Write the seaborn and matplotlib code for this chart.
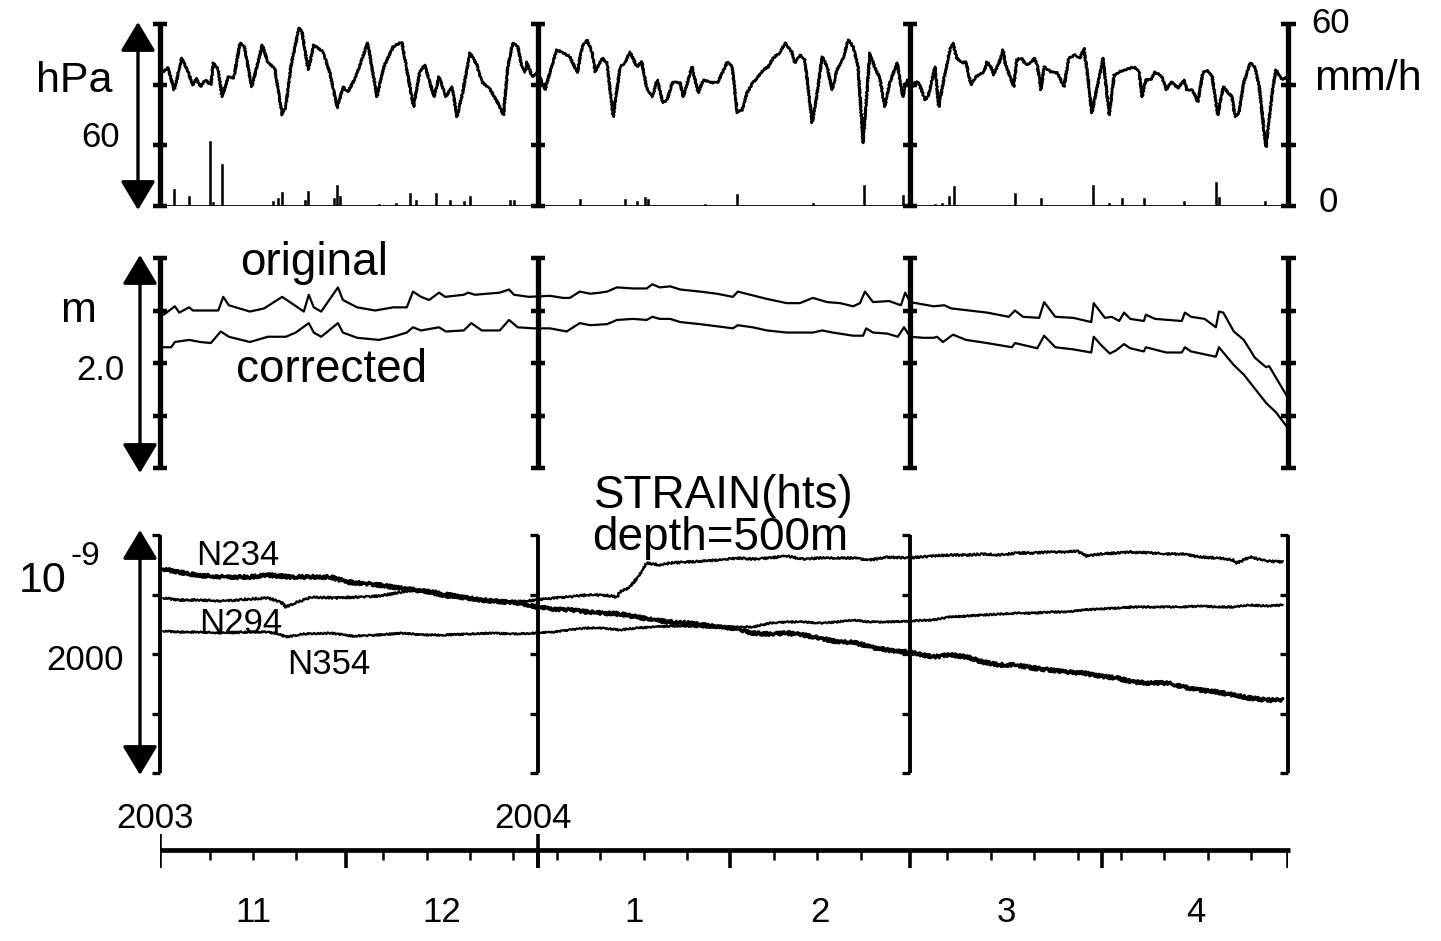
import pandas as pd
import seaborn as sns
import matplotlib.pyplot as plt

# days counted from 2003-11-01
start = pd.Timestamp('2003-11-01')

# atmospheric pressure (hPa)
pressure_day = [
    0.4, 1.3, 2.3, 3.5, 4.4, 5.3, 5.8, 6.5, 7.3, 8.2,
    8.6, 9.4, 10.0, 11.0, 11.9, 12.9, 13.6, 14.8, 16.5, 17.4,
    18.5, 19.7, 20.3, 21.1, 22.4, 22.9, 23.9, 24.8, 26.3, 27.4,
    28.6, 29.5, 30.3, 31.5, 33.5, 35.0, 36.1, 37.6, 39.0, 40.9,
    41.9, 42.7, 44.2, 45.0, 46.1, 47.1, 47.9, 48.8, 50.0, 51.1,
    51.9, 53.1, 54.5, 55.4, 56.1, 56.9, 57.7, 58.4, 58.9, 59.2,
    60.0, 60.8, 61.3, 62.1, 62.9, 64.0, 65.0, 66.1, 67.3, 68.1,
    68.9, 69.7, 70.2, 71.3, 72.1, 73.1, 74.2, 75.0, 75.8, 76.9,
    77.7, 78.5, 79.4, 80.2, 81.1, 81.8, 82.7, 83.9, 84.4, 85.8,
    86.8, 87.6, 89.2, 90.0, 91.5, 92.3, 93.1, 93.9, 94.7, 95.6,
    96.5, 97.3, 98.1, 98.9, 100.0, 100.8, 101.9, 102.4, 103.2, 104.0,
    105.2, 106.0, 106.8, 107.6, 108.4, 109.2, 110.2, 111.0, 111.8, 112.6,
    113.4, 114.5, 115.3, 116.1, 116.9, 117.7, 118.9, 119.8, 120.5, 121.3,
    121.9, 122.4, 123.4, 123.9, 125.0, 125.6, 126.5, 127.4, 127.9, 128.5,
    129.4, 130.0, 130.8, 131.6, 132.9, 133.4, 134.0, 134.5, 135.5, 136.0,
    136.3, 137.7, 138.2, 138.9, 139.7, 140.6, 141.0, 141.5, 142.1, 142.6,
    143.7, 144.7, 145.8, 146.6, 147.6, 148.4, 149.0, 149.5, 150.3, 151.3,
    152.1, 153.1, 153.9, 154.7, 155.8, 157.1, 157.9, 158.4, 159.0, 159.8,
    160.5, 161.6, 162.3, 163.1, 164.2, 165.2, 165.6, 166.5, 167.4, 168.2,
    168.9, 169.7, 170.6, 171.5, 172.3, 172.9, 173.4, 174.0, 174.8, 175.8,
    176.6, 177.3, 178.1, 178.4, 178.9, 179.5, 180.0, 181.0, 181.8]
pressure_hpa = [
    1014.2, 1015.5, 1008.3, 1018.8, 1014.9, 1009.9, 1012.2, 1009.3, 1011.6, 1009.9,
    1017.2, 1014.9, 1006.0, 1012.6, 1012.2, 1023.8, 1022.5, 1009.3, 1023.1, 1017.2,
    1015.5, 1000.0, 1002.7, 1015.9, 1028.7, 1027.4, 1014.9, 1023.1, 1020.8, 1013.9,
    1002.3, 1009.3, 1007.6, 1012.2, 1023.8, 1006.0, 1015.9, 1022.5, 1024.1, 1002.7,
    1014.2, 1016.5, 1006.0, 1012.6, 1006.0, 1009.3, 999.4, 1007.3, 1020.5, 1016.5,
    1010.9, 1008.9, 1004.0, 1000.0, 1015.9, 1023.8, 1022.5, 1015.9, 1014.2, 1017.5,
    1012.6, 1013.9, 1012.2, 1008.3, 1014.2, 1021.5, 1020.5, 1019.2, 1013.9, 1022.5,
    1024.8, 1020.5, 1014.2, 1018.8, 1017.2, 999.4, 1015.9, 1017.2, 1020.8, 1015.9,
    1017.5, 1008.9, 1006.0, 1011.6, 1004.0, 1005.0, 1010.9, 1010.6, 1006.0, 1015.9,
    1007.3, 1011.6, 1010.6, 1010.9, 1017.5, 1015.9, 1000.7, 1001.7, 1007.3, 1010.6,
    1012.6, 1014.9, 1015.9, 1018.8, 1020.5, 1023.8, 1020.8, 1017.2, 1019.8, 1018.2,
    997.4, 1007.3, 1019.2, 1015.9, 1008.3, 1014.9, 1018.8, 1024.8, 1022.5, 1015.9,
    990.8, 1020.5, 1015.5, 1012.2, 1002.7, 1010.6, 1017.2, 1006.0, 1011.6, 1009.3,
    1010.9, 1010.6, 1005.0, 1006.0, 1015.9, 1002.7, 1012.6, 1021.5, 1023.8, 1018.8,
    1017.2, 1017.5, 1009.9, 1012.6, 1014.2, 1017.5, 1015.9, 1013.2, 1018.2, 1021.5,
    1017.2, 1009.3, 1018.2, 1018.8, 1016.5, 1017.5, 1018.8, 1016.5, 1008.3, 1015.9,
    1014.2, 1013.9, 1009.3, 1018.8, 1019.8, 1018.8, 1022.1, 1014.9, 1000.7, 1010.6,
    1018.8, 1000.0, 1013.2, 1014.2, 1014.9, 1015.9, 1014.2, 1006.0, 1011.6, 1011.6,
    1014.2, 1012.6, 1008.3, 1010.9, 1008.9, 1011.6, 1008.3, 1008.3, 1004.3, 1013.9,
    1014.9, 1012.6, 1000.0, 1009.3, 1007.3, 1006.0, 999.4, 1000.7, 1010.6, 1017.2,
    1015.9, 1009.3, 994.1, 989.5, 998.4, 1009.3, 1014.9, 1011.6, 1012.6]

# rainfall (mm/h)
rain_day = [2.3, 4.7, 8.1, 8.5, 10.0, 18.2, 19.0, 19.7, 23.4, 23.9,
            28.1, 28.5, 29.0, 35.3, 38.1, 40.3, 41.3, 44.5, 46.8, 49.0,
            50.0, 56.5, 57.1, 67.7, 75.0, 76.9, 78.2, 78.7, 87.9, 93.1,
            105.3, 113.5, 119.8, 125.0, 126.1, 127.3, 128.1, 137.9, 142.1, 150.5,
            153.1, 155.2, 158.7, 165.2, 170.3, 170.8, 178.2]
rain_mmh = [5.6, 3.3, 21.4, 1.3, 13.8, 1.6, 2.6, 4.6, 2.0, 4.9,
            2.6, 6.9, 3.3, 0.7, 1.0, 4.3, 2.0, 4.3, 2.0, 1.6,
            3.3, 2.0, 2.0, 2.3, 2.3, 1.6, 3.0, 2.3, 0.7, 4.0,
            1.0, 6.9, 3.6, 0.7, 1.0, 3.3, 6.6, 4.3, 2.6, 6.9,
            1.0, 2.6, 2.6, 1.6, 7.9, 3.0, 1.6]

# groundwater level (m)
orig_day = [0.6, 2.4, 3.1, 4.7, 5.3, 9.4, 10.2, 11.1, 14.5, 16.8,
            19.7, 23.2, 24.0, 24.8, 26.0, 28.7, 29.5, 31.8, 34.7, 37.6,
            39.8, 40.8, 42.1, 43.4, 45.0, 46.0, 49.0, 49.7, 50.8, 54.8,
            56.3, 57.1, 59.5, 62.9, 65.0, 66.1, 67.7, 69.4, 71.0, 72.1,
            73.7, 76.3, 78.5, 79.4, 80.6, 82.3, 83.9, 87.1, 89.8, 92.4,
            93.2, 95.2, 97.9, 101.1, 103.2, 105.3, 107.6, 109.7, 111.8, 112.9,
            113.7, 115.0, 117.6, 119.5, 120.2, 121.0, 124.8, 126.5, 127.6, 130.5,
            133.4, 136.9, 137.9, 139.2, 141.8, 142.6, 144.4, 147.3, 150.2, 150.6,
            152.4, 153.5, 154.7, 155.5, 156.5, 158.7, 159.0, 160.5, 164.8, 165.3,
            166.3, 168.5, 170.3, 170.8, 171.5, 173.2, 174.8, 176.6, 178.4, 178.9,
            181.8]
orig_m = [1.46, 1.54, 1.48, 1.53, 1.50, 1.50, 1.63, 1.55, 1.49, 1.52,
          1.63, 1.49, 1.65, 1.53, 1.49, 1.72, 1.60, 1.53, 1.50, 1.53,
          1.53, 1.68, 1.63, 1.60, 1.67, 1.63, 1.65, 1.67, 1.65, 1.67,
          1.70, 1.65, 1.63, 1.64, 1.62, 1.62, 1.68, 1.66, 1.67, 1.68,
          1.72, 1.71, 1.71, 1.75, 1.72, 1.73, 1.70, 1.68, 1.66, 1.63,
          1.68, 1.65, 1.61, 1.57, 1.57, 1.62, 1.58, 1.57, 1.54, 1.57,
          1.68, 1.58, 1.59, 1.55, 1.67, 1.58, 1.54, 1.55, 1.52, 1.50,
          1.48, 1.44, 1.50, 1.44, 1.43, 1.58, 1.44, 1.43, 1.39, 1.57,
          1.43, 1.44, 1.40, 1.48, 1.42, 1.40, 1.46, 1.42, 1.40, 1.48,
          1.44, 1.42, 1.34, 1.49, 1.48, 1.30, 1.22, 1.05, 0.96, 0.97,
          0.68]
corr_day = [0.5, 1.8, 2.4, 4.7, 6.5, 8.2, 9.8, 11.1, 14.5, 17.4,
            20.3, 21.9, 24.0, 24.8, 26.0, 28.7, 29.5, 31.8, 35.3, 37.6,
            39.8, 40.8, 42.1, 45.0, 46.1, 49.0, 50.2, 51.9, 54.8, 56.3,
            57.7, 60.2, 62.9, 65.6, 67.7, 69.4, 72.1, 73.7, 76.3, 78.5,
            79.4, 80.6, 82.3, 83.9, 87.1, 89.8, 92.4, 93.2, 95.6, 97.9,
            101.1, 105.3, 106.8, 108.5, 111.8, 113.4, 113.9, 115.0, 117.3, 119.0,
            120.0, 121.0, 123.1, 124.8, 125.3, 126.3, 127.9, 130.0, 133.4, 137.4,
            137.9, 141.5, 142.6, 144.4, 147.3, 150.2, 150.6, 151.8, 153.2, 154.2,
            155.5, 156.5, 158.7, 159.0, 162.3, 164.8, 165.3, 166.3, 170.3, 170.8,
            173.2, 174.8, 178.4, 180.0, 181.8]
corr_m = [1.15, 1.15, 1.20, 1.22, 1.20, 1.19, 1.30, 1.25, 1.20, 1.25,
          1.25, 1.29, 1.38, 1.29, 1.25, 1.38, 1.29, 1.24, 1.22, 1.25,
          1.29, 1.34, 1.31, 1.34, 1.30, 1.31, 1.38, 1.31, 1.31, 1.41,
          1.34, 1.33, 1.33, 1.30, 1.38, 1.36, 1.37, 1.41, 1.42, 1.41,
          1.44, 1.42, 1.42, 1.39, 1.37, 1.35, 1.33, 1.36, 1.34, 1.31,
          1.29, 1.29, 1.31, 1.29, 1.26, 1.26, 1.33, 1.29, 1.28, 1.25,
          1.34, 1.25, 1.24, 1.24, 1.25, 1.20, 1.27, 1.22, 1.19, 1.15,
          1.19, 1.14, 1.26, 1.15, 1.13, 1.10, 1.25, 1.17, 1.09, 1.12,
          1.18, 1.14, 1.11, 1.15, 1.10, 1.10, 1.15, 1.11, 1.06, 1.15,
          0.98, 0.89, 0.62, 0.53, 0.39]

# borehole strain (10^-9)
n234_day = [0.5, 3.1, 5.8, 10.2, 14.5, 17.4, 21.0, 24.5, 27.4, 30.3,
            34.0, 37.6, 41.1, 44.8, 48.4, 51.9, 55.5, 58.1, 60.8, 63.4,
            66.1, 68.9, 71.5, 74.2, 76.9, 79.5, 82.3, 85.0, 87.6, 90.3,
            93.1, 95.6, 98.4, 101.1, 103.7, 106.5, 109.2, 111.8, 114.5, 117.3,
            120.6, 124.7, 127.4, 130.2, 132.7, 135.5, 138.2, 140.8, 143.5, 146.3,
            148.9, 151.6, 154.4, 156.9, 159.7, 162.4, 165.0, 167.7, 170.5, 173.1,
            175.8, 178.5, 181.1]
n234 = [1714, 1689, 1664, 1647, 1647, 1664, 1647, 1647, 1647, 1605,
        1588, 1563, 1538, 1513, 1479, 1454, 1437, 1429, 1395, 1378,
        1370, 1353, 1344, 1336, 1311, 1286, 1269, 1260, 1244, 1227,
        1210, 1176, 1168, 1176, 1160, 1134, 1101, 1101, 1059, 1034,
        1017, 975, 992, 975, 933, 908, 908, 882, 866, 849,
        840, 815, 798, 765, 756, 756, 723, 697, 681, 655,
        630, 613, 613]
n294_day = [0.5, 3.1, 6.6, 10.2, 14.5, 17.4, 19.5, 20.3, 21.8, 24.5,
            28.2, 31.8, 35.3, 39.0, 41.1, 43.4, 46.1, 49.8, 53.4, 56.9,
            60.8, 63.4, 66.1, 68.9, 71.5, 73.7, 74.2, 75.8, 77.1, 77.9,
            78.5, 80.6, 82.3, 85.0, 87.6, 90.3, 93.1, 95.6, 98.4, 101.1,
            103.7, 106.5, 109.2, 111.8, 114.5, 117.3, 120.6, 124.7, 127.4, 130.2,
            132.7, 135.5, 138.2, 140.8, 143.5, 146.3, 147.9, 149.5, 151.6, 154.4,
            156.5, 159.7, 162.4, 165.0, 167.7, 170.5, 173.1, 173.7, 175.8, 178.5,
            181.1]
n294 = [1471, 1454, 1454, 1445, 1462, 1471, 1437, 1395, 1429, 1479,
        1471, 1479, 1487, 1521, 1538, 1513, 1479, 1471, 1437, 1437,
        1454, 1471, 1479, 1496, 1496, 1479, 1521, 1563, 1647, 1706,
        1765, 1748, 1765, 1773, 1781, 1790, 1807, 1798, 1807, 1823,
        1798, 1807, 1807, 1807, 1790, 1815, 1807, 1823, 1832, 1832,
        1840, 1832, 1849, 1849, 1857, 1857, 1865, 1823, 1840, 1849,
        1857, 1849, 1840, 1840, 1815, 1807, 1790, 1765, 1815, 1781,
        1773]
n354_day = [0.5, 3.1, 6.6, 10.2, 14.5, 17.4, 19.2, 20.3, 23.2, 27.4,
            31.1, 35.3, 39.0, 42.6, 46.1, 49.8, 53.4, 56.9, 60.8, 63.4,
            66.1, 68.9, 71.5, 74.2, 76.9, 79.5, 82.3, 85.0, 87.6, 90.3,
            93.1, 95.6, 98.4, 101.1, 103.7, 106.5, 109.2, 111.8, 114.5, 117.3,
            120.6, 124.7, 127.4, 130.2, 132.7, 135.5, 138.2, 140.8, 143.5, 146.3,
            148.9, 151.6, 154.4, 156.9, 159.7, 162.4, 165.0, 167.7, 170.5, 173.1,
            175.8, 178.5, 181.1]
n354 = [1193, 1185, 1185, 1176, 1185, 1185, 1168, 1143, 1168, 1176,
        1151, 1160, 1176, 1160, 1160, 1168, 1176, 1168, 1176, 1185,
        1202, 1218, 1218, 1202, 1218, 1227, 1235, 1235, 1227, 1227,
        1227, 1227, 1260, 1269, 1269, 1260, 1269, 1286, 1269, 1269,
        1277, 1286, 1311, 1319, 1328, 1336, 1344, 1344, 1353, 1353,
        1370, 1378, 1386, 1395, 1395, 1395, 1395, 1403, 1395, 1395,
        1412, 1403, 1412]

bracket_dates = ['2003-11-01', '2004-01-01', '2004-03-01', '2004-05-01']
month_labels = ['11', '12', '1', '2', '3', '4']
year_labels = ['2003', '2004']
year_dates = ['2003-11-01', '2004-01-01']


def to_day(dates):
    return [(pd.Timestamp(d) - start).days for d in dates]


bracket_days = to_day(bracket_dates)
month_starts = to_day(pd.date_range('2003-11-01', '2004-05-01', freq='MS'))
sundays = [d for d in to_day(pd.date_range('2003-11-01', '2004-05-01', freq='W-SUN'))
           if min(abs(d - m) for m in month_starts) > 1.5]

sns.set_style('white')
plt.rcParams['font.family'] = ['Liberation Sans', 'DejaVu Sans']
plt.rcParams['text.color'] = 'black'

W, H = 1441, 941
fig = plt.figure(figsize=(W / 100, H / 100), dpi=100)
X0, XPD = 160, 6.2  # left edge in px, px per day


def add_ax(top, bottom):
    ax = fig.add_axes([X0 / W, 1 - bottom / H, 182 * XPD / W, (bottom - top) / H])
    ax.set_xlim(0, 182)
    ax.axis('off')
    return ax


def label(x, y, s, size, ha='center'):
    fig.text(x / W, 1 - y / H, s, fontsize=size, ha=ha, va='baseline', color='black')


def arrow(ax, x, y0, y1):
    ax.annotate('', xy=(x, H - y0), xycoords='figure pixels',
                xytext=(x, H - y1), textcoords='figure pixels',
                arrowprops=dict(arrowstyle='<|-|>,head_length=1.0,head_width=0.6',
                                color='k', lw=2.4, mutation_scale=18,
                                shrinkA=0, shrinkB=0))


def brackets(ax, levels, lw, half, both=True):
    for d in bracket_days:
        ax.plot([d, d], [levels[0], levels[-1]], color='k', lw=lw,
                solid_capstyle='butt', clip_on=False)
        for v in levels:
            ax.plot([d - half, d + half if both else d], [v, v], color='k',
                    lw=lw * 0.85, solid_capstyle='butt', clip_on=False)


# panel 1: pressure and rain
ax_p = add_ax(24, 206)
ax_p.set_ylim(970, 1030)
sns.lineplot(x=pressure_day, y=pressure_hpa, ax=ax_p, color='k', lw=1.9,
             estimator=None, sort=False)
ax_p.lines[-1].set_sketch_params(scale=0.7, length=3, randomness=2)
ax_r = ax_p.twinx()
ax_r.set_ylim(0, 60)
ax_r.axis('off')
ax_r.bar(rain_day, rain_mmh, width=0.28, color='k', edgecolor='k', linewidth=0.4)
ax_r.axhline(0, color='k', lw=2.0)
brackets(ax_p, [970, 990, 1010, 1030], lw=3.8, half=1.15)
arrow(ax_p, 138, 22, 210)
label(74, 92, 'hPa', 31)
label(101, 147, '60', 25)
label(1331, 33, '60', 25)
label(1368, 90, 'mm/h', 31)
label(1328, 212, '0', 25)

# panel 2: groundwater level
ax_w = add_ax(258, 468)
ax_w.set_ylim(0, 2.0)
sns.lineplot(x=orig_day, y=orig_m, ax=ax_w, color='k', lw=1.6,
             estimator=None, sort=False)
sns.lineplot(x=corr_day, y=corr_m, ax=ax_w, color='k', lw=1.6,
             estimator=None, sort=False)
brackets(ax_w, [0, 0.5, 1.0, 1.5, 2.0], lw=3.8, half=1.15)
arrow(ax_w, 140, 255, 473)
label(78, 322, 'm', 31)
label(100, 380, '2.0', 25)
label(314, 275, 'original', 33)
label(332, 382, 'corrected', 33)

# panel 3: strain
ax_s = add_ax(535, 773)
ax_s.set_ylim(0, 2000)
for dd, vv, w, amp in [(n234_day, n234, 2.4, 1.6), (n294_day, n294, 1.6, 1.0),
                       (n354_day, n354, 1.6, 0.8)]:
    sns.lineplot(x=dd, y=vv, ax=ax_s, color='k', lw=w, estimator=None, sort=False)
    ax_s.lines[-1].set_sketch_params(scale=amp, length=3, randomness=2)
brackets(ax_s, [0, 500, 1000, 1500, 2000], lw=2.8, half=1.3, both=False)
arrow(ax_s, 140, 530, 775)
label(43, 592, '10', 31)
label(85, 565, '-9', 24)
label(85, 670, '2000', 25)
label(238, 565, 'N234', 25)
label(241, 633, 'N294', 25)
label(329, 674, 'N354', 25)
label(724, 508, 'STRAIN(hts)', 33)
label(720, 550, 'depth=500m', 33)

# time axis
ax_t = add_ax(830, 870)
ax_t.set_ylim(40, 0)
ax_t.plot([0, 182.3], [20, 20], color='k', lw=3.4, solid_capstyle='butt', clip_on=False)
ax_t.vlines(sundays, 20, 30, color='k', lw=1.8)
ax_t.vlines(month_starts[1:], 20, 38, color='k', lw=2.6)
ax_t.vlines(to_day(year_dates), 4, 38, color='k', lw=2.6)
for s, d in zip(year_labels, to_day(year_dates)):
    ax_t.text(d - 0.8, -2, s, fontsize=25, ha='center', va='baseline', color='black')
for s, a, b in zip(month_labels, month_starts[:-1], month_starts[1:]):
    ax_t.text((a + b) / 2, 92, s, fontsize=25, ha='center', va='baseline', color='black')

fig.savefig('out.png', dpi=100, facecolor='white')
